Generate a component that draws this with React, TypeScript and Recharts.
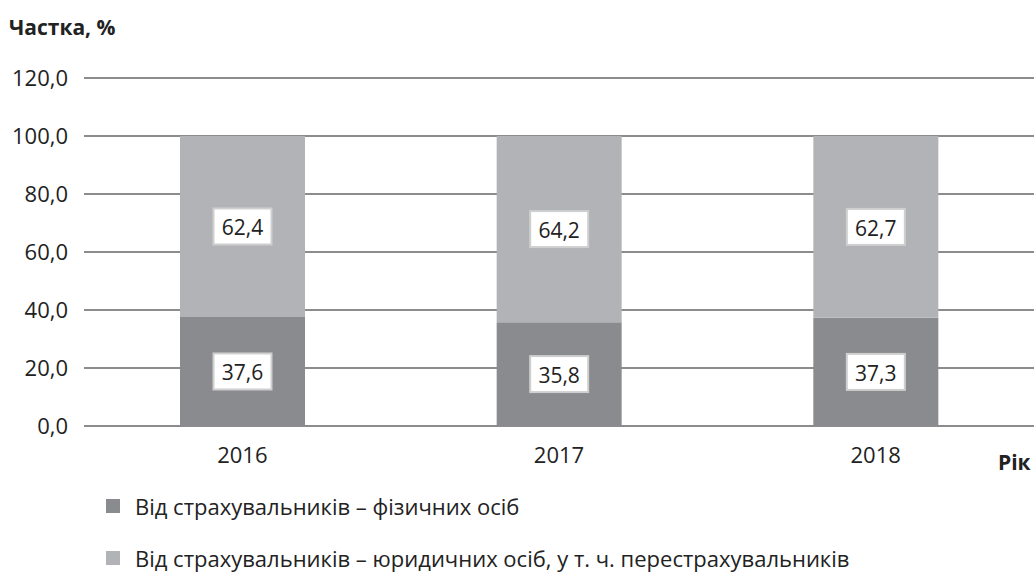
import React from "react";
import { BarChart, Bar, XAxis, YAxis, CartesianGrid, LabelList } from "recharts";

const years = ["2016", "2017", "2018"];
const individuals = [37.6, 35.8, 37.3];
const legalEntities = [62.4, 64.2, 62.7];
const yTicks = [0, 20, 40, 60, 80, 100, 120];

const seriesNames = {
  individuals: "Від страхувальників – фізичних осіб",
  legalEntities: "Від страхувальників – юридичних осіб, у т. ч. перестрахувальників",
};

const data = years.map((year, i) => ({
  year,
  individuals: individuals[i],
  legalEntities: legalEntities[i],
}));

const FONT = "'Open Sans', 'Noto Sans', sans-serif";
const DARK = "#8a8b8e";
const LIGHT = "#b2b3b6";

const fmt = (v: number) => v.toFixed(1).replace(".", ",");

function BoxLabel(props: any) {
  const { x, y, width, height, value } = props;
  const cx = x + width / 2;
  const cy = y + height / 2;
  const w = 58;
  const h = 36;
  return (
    <g>
      <rect x={cx - w / 2} y={cy - h / 2} width={w} height={h} fill="#fff" stroke="#cfcfcf" strokeWidth={2} />
      <text x={cx} y={cy + 1} textAnchor="middle" dominantBaseline="central" fontSize={21} fontFamily={FONT} fill="#222">
        {fmt(Number(value))}
      </text>
    </g>
  );
}

function LegendBox() {
  const items = [
    { color: DARK, label: seriesNames.individuals },
    { color: LIGHT, label: seriesNames.legalEntities },
  ];
  return (
    <div style={{ position: "absolute", left: 106, top: 480, fontFamily: FONT }}>
      {items.map((it) => (
        <div key={it.label} style={{ display: "flex", alignItems: "center", height: 52 }}>
          <div style={{ width: 14, height: 14, background: it.color, marginRight: 15 }} />
          <span style={{ fontSize: 22, color: "#222", whiteSpace: "nowrap" }}>{it.label}</span>
        </div>
      ))}
    </div>
  );
}

export default function App() {
  return (
    <div style={{ position: "absolute", left: 0, top: 0, width: 1036, height: 574, background: "#fff", fontFamily: FONT, overflow: "hidden" }}>
      <div style={{ position: "absolute", left: 9, top: 13, fontSize: 21, fontWeight: 700, color: "#222" }}>Частка, %</div>
      <div style={{ position: "absolute", left: 998, top: 448, fontSize: 21, fontWeight: 700, color: "#222" }}>Рік</div>
      <BarChart
        width={1036}
        height={574}
        data={data}
        margin={{ top: 78, right: 2, left: 0, bottom: 118 }}
      >
        <CartesianGrid vertical={false} stroke="#1a1a1a" strokeWidth={1.2} />
        <XAxis
          dataKey="year"
          axisLine={false}
          tickLine={false}
          height={30}
          tickMargin={15}
          tick={{ fontSize: 22, fill: "#222", fontFamily: FONT }}
        />
        <YAxis
          width={84}
          domain={[0, 120]}
          ticks={yTicks}
          axisLine={false}
          tickLine={false}
          tickMargin={10}
          tickFormatter={fmt}
          tick={{ fontSize: 22, fill: "#222", fontFamily: FONT }}
        />
        <Bar dataKey="individuals" stackId="a" fill={DARK} barSize={125} isAnimationActive={false}>
          <LabelList dataKey="individuals" content={<BoxLabel />} />
        </Bar>
        <Bar dataKey="legalEntities" stackId="a" fill={LIGHT} barSize={125} isAnimationActive={false}>
          <LabelList dataKey="legalEntities" content={<BoxLabel />} />
        </Bar>
      </BarChart>
      <LegendBox />
    </div>
  );
}
